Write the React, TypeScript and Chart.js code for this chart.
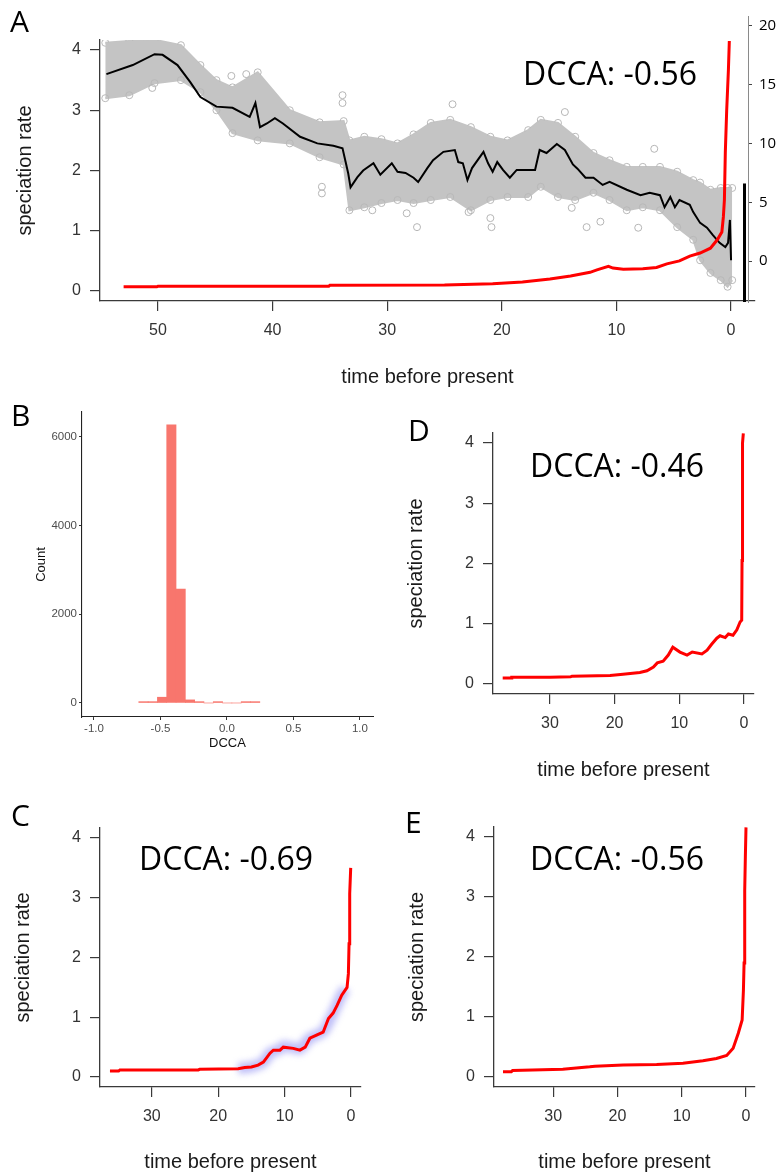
import React, { useEffect, useRef } from "react";
import { Chart, registerables } from "chart.js";
Chart.register(...registerables);

const AXIS_FONT = '"Liberation Sans", Arial, Helvetica, sans-serif';
const ANNOT_FONT = '"Open Sans", "Noto Sans", sans-serif';
const AXIS_COLOR = "#3a3a3a";
const TICK_COLOR = "#333333";
const TITLE_COLOR = "#1a1a1a";

// ---------- Panel A ----------
const aCloudT = [54.6, 52.5, 50.3, 48.0, 46.3, 44.9, 43.5, 41.3, 38.5, 35.9, 33.8, 33.3, 32.0, 30.5, 29.1, 27.7, 26.2, 24.5, 22.7, 21.0, 19.5, 17.7, 16.6, 15.1, 13.6, 12.0, 10.6, 9.1, 7.7, 6.2, 4.7, 3.3, 2.7, 1.8, 0.9, 0.3, -0.1];
const aCloudHi = [4.12, 4.15, 4.17, 4.08, 3.75, 3.5, 3.38, 3.63, 3.0, 2.8, 2.82, 2.5, 2.56, 2.52, 2.45, 2.6, 2.79, 2.84, 2.72, 2.56, 2.5, 2.67, 2.84, 2.79, 2.56, 2.29, 2.17, 2.06, 2.06, 2.06, 1.98, 1.84, 1.8, 1.68, 1.71, 1.71, 1.71];
const aCloudLo = [3.2, 3.25, 3.45, 3.5, 3.3, 3.0, 2.62, 2.5, 2.45, 2.22, 2.1, 1.34, 1.39, 1.46, 1.51, 1.46, 1.51, 1.56, 1.34, 1.51, 1.56, 1.56, 1.73, 1.56, 1.51, 1.63, 1.51, 1.34, 1.39, 1.34, 1.06, 0.85, 0.51, 0.3, 0.18, 0.07, 0.18];
const aOutT = [52.7, 51.7, 50.3, 50.5, 43.6, 42.3, 33.9, 33.9, 35.7, 35.7, 24.3, 14.5, 27.4, 20.9, 21.0, 28.3, 31.3, 22.9, 13.9, 6.7, 12.6, 8.1, 11.4];
const aOutV = [4.38, 4.25, 4.25, 3.37, 3.57, 3.6, 3.25, 3.12, 1.73, 1.62, 3.1, 2.97, 1.06, 1.06, 1.21, 1.29, 1.34, 1.31, 1.38, 2.36, 1.06, 1.05, 1.15];
const aMeanT = [54.5, 52.2, 50.3, 49.6, 48.3, 47.2, 46.3, 44.9, 43.5, 42.0, 41.5, 41.1, 40.5, 39.8, 39.1, 37.6, 36.1, 34.7, 33.9, 33.4, 33.2, 32.6, 32.1, 31.2, 30.6, 29.6, 29.1, 28.4, 27.7, 27.3, 26.5, 26.0, 25.1, 24.1, 23.8, 23.4, 23.0, 22.6, 21.6, 21.2, 20.8, 20.4, 19.9, 19.3, 18.7, 17.5, 17.1, 16.7, 16.1, 15.2, 14.5, 13.8, 13.4, 12.7, 12.0, 11.2, 10.6, 9.1, 7.9, 7.1, 6.2, 5.8, 5.3, 4.9, 4.5, 3.6, 3.3, 2.7, 2.1, 1.6, 1.0, 0.5, 0.26, 0.1, 0.0];
const aMeanV = [3.6, 3.75, 3.93, 3.92, 3.75, 3.47, 3.22, 3.06, 3.04, 2.89, 3.12, 2.72, 2.78, 2.87, 2.78, 2.56, 2.45, 2.41, 2.37, 1.95, 1.72, 1.89, 2.0, 2.12, 1.93, 2.12, 1.98, 1.96, 1.88, 1.81, 2.04, 2.17, 2.31, 2.34, 2.14, 2.12, 1.84, 2.04, 2.31, 2.12, 1.98, 2.14, 2.01, 1.88, 2.01, 2.01, 2.01, 2.34, 2.29, 2.44, 2.34, 2.1, 2.03, 1.88, 1.88, 1.76, 1.81, 1.68, 1.59, 1.63, 1.59, 1.39, 1.56, 1.39, 1.51, 1.43, 1.31, 1.13, 1.05, 0.93, 0.8, 0.73, 0.8, 1.18, 0.51];
const aRedT = [53.0, 50.1, 50.0, 35.1, 35.0, 25.0, 20.8, 18.2, 15.8, 14.0, 12.3, 11.7, 10.7, 10.3, 9.4, 7.7, 6.5, 5.6, 4.5, 3.6, 2.7, 1.8, 1.2, 0.8, 0.67, 0.58, 0.5, 0.38, 0.23, 0.15];
const aRedV = [0.07, 0.07, 0.08, 0.08, 0.095, 0.1, 0.12, 0.15, 0.2, 0.25, 0.31, 0.35, 0.41, 0.38, 0.36, 0.37, 0.39, 0.45, 0.5, 0.58, 0.63, 0.71, 0.85, 0.98, 1.23, 1.51, 2.3, 3.0, 3.67, 4.15];
const aTimeTicks = [0, 10, 20, 30, 40, 50];
const aRightTicks = [0, 5, 10, 15, 20];
const aBarTop = 6.6;
const aBarBottom = -3.47;

// ---------- Panel B ----------
const bBinCenters = [-0.628, -0.558, -0.488, -0.418, -0.348, -0.278, -0.208, -0.138, -0.068, 0.002, 0.072, 0.142, 0.212];
const bCounts = [30, 30, 130, 6270, 2570, 70, 30, 0, 30, 0, 0, 30, 30];
const bXTicks = [-1, -0.5, 0, 0.5, 1];
const bYTicks = [0, 2000, 4000, 6000];

// ---------- Panel C ----------
const cT = [36.3, 35.0, 34.8, 23.0, 22.8, 17.0, 16.0, 15.0, 14.0, 13.2, 12.2, 11.7, 10.7, 10.2, 8.7, 7.7, 6.9, 6.2, 5.2, 4.2, 3.4, 2.7, 2.1, 1.4, 0.6, 0.4, 0.3, 0.2, 0.05];
const cV = [0.1, 0.1, 0.12, 0.12, 0.13, 0.14, 0.16, 0.17, 0.2, 0.25, 0.4, 0.45, 0.45, 0.5, 0.48, 0.45, 0.5, 0.65, 0.7, 0.75, 0.98, 1.07, 1.2, 1.37, 1.5, 1.73, 2.23, 3.07, 3.5];
const cGlowT = [17, 15, 13.2, 12.2, 10.7, 10.2, 8.7, 7.7, 6.2, 4.2, 2.7, 1.4, 0.8];
const cGlowV = [0.14, 0.17, 0.25, 0.4, 0.47, 0.52, 0.49, 0.47, 0.65, 0.76, 1.07, 1.38, 1.48];

// ---------- Panel D ----------
const dT = [37.3, 36.0, 35.9, 30.0, 26.8, 26.6, 20.7, 18.7, 16.1, 15.0, 14.0, 13.4, 12.5, 11.7, 11.0, 9.9, 8.8, 8.0, 6.5, 5.7, 5.0, 4.2, 3.7, 2.9, 2.4, 1.7, 1.1, 0.6, 0.35, 0.3, 0.25, 0.2, 0.1];
const dV = [0.1, 0.1, 0.11, 0.11, 0.12, 0.13, 0.14, 0.16, 0.19, 0.22, 0.28, 0.35, 0.38, 0.48, 0.61, 0.53, 0.48, 0.53, 0.5, 0.56, 0.66, 0.76, 0.8, 0.77, 0.83, 0.81, 0.9, 1.03, 1.06, 2.05, 3.0, 4.0, 4.16];

// ---------- Panel E ----------
const eT = [37.8, 36.5, 36.3, 28.5, 24.3, 23.5, 19.1, 13.9, 9.8, 6.7, 4.6, 3.0, 2.0, 1.2, 0.6, 0.4, 0.3, 0.2, 0.1, 0.0];
const eV = [0.09, 0.09, 0.11, 0.13, 0.17, 0.18, 0.2, 0.21, 0.23, 0.27, 0.31, 0.36, 0.48, 0.73, 0.95, 1.45, 1.9, 3.1, 3.67, 4.16];

const rateTicks = [0, 1, 2, 3, 4];
const timeTicks = [0, 10, 20, 30];

const pts = (xs: number[], ys: number[]) => xs.map((x, i) => ({ x, y: ys[i] }));
const fixedTicks = (vals: number[]) => (s: any) => {
  s.ticks = vals.map((v) => ({ value: v }));
};

const blurPlugin = {
  id: "dsBlur",
  beforeDatasetDraw(chart: any, args: any) {
    const ds = chart.data.datasets[args.index];
    if (ds.blur) {
      chart.ctx.save();
      chart.ctx.filter = `blur(${ds.blur}px)`;
    }
  },
  afterDatasetDraw(chart: any, args: any) {
    const ds = chart.data.datasets[args.index];
    if (ds.blur) chart.ctx.restore();
  },
};

function rOptions(p: any) {
  const tickFont = { family: AXIS_FONT, size: 16 };
  return {
    animation: false,
    responsive: false,
    events: [],
    layout: { padding: { top: p.padTop, right: p.padRight, left: 0, bottom: 0 } },
    plugins: { legend: { display: false }, tooltip: { enabled: false } },
    scales: {
      x: {
        type: "linear",
        reverse: true,
        min: p.xMin,
        max: p.xMax,
        afterBuildTicks: fixedTicks(p.xTicks),
        afterFit: (s: any) => {
          s.height = p.xHeight;
        },
        grid: { drawOnChartArea: false, color: AXIS_COLOR, lineWidth: 1.2, tickLength: 10 },
        border: { color: AXIS_COLOR, width: 1.3 },
        ticks: {
          font: tickFont,
          color: TICK_COLOR,
          padding: 10,
          maxRotation: 0,
          autoSkip: false,
          callback: (v: any) => String(v),
        },
        title: {
          display: true,
          text: "time before present",
          font: { family: AXIS_FONT, size: 20 },
          color: TITLE_COLOR,
          padding: { top: 0, bottom: p.xTitlePad },
        },
      },
      y: {
        type: "linear",
        min: -0.166,
        max: 4.166,
        afterBuildTicks: fixedTicks(rateTicks),
        afterFit: (s: any) => {
          s.width = p.yWidth;
        },
        grid: { drawOnChartArea: false, color: AXIS_COLOR, lineWidth: 1.2, tickLength: 10 },
        border: { color: AXIS_COLOR, width: 1.3 },
        ticks: { font: tickFont, color: TICK_COLOR, padding: 9, autoSkip: false, callback: (v: any) => String(v) },
        title: {
          display: true,
          text: "speciation rate",
          font: { family: AXIS_FONT, size: 20 },
          color: TITLE_COLOR,
          padding: { top: p.yTitlePad, bottom: 0 },
        },
      },
    },
  };
}

const redLine = (data: any[]) => ({
  data,
  borderColor: "#ff0000",
  borderWidth: 3,
  pointRadius: 0,
  tension: 0,
  fill: false,
  order: 0,
});

function makeA() {
  return {
    type: "line",
    data: {
      datasets: [
        {
          data: pts(aCloudT, aCloudHi),
          borderColor: "#c4c4c4",
          borderWidth: 2,
          pointRadius: 3.5,
          pointBorderColor: "#b9b9b9",
          pointBackgroundColor: "rgba(0,0,0,0)",
          pointBorderWidth: 1,
          fill: false,
          order: 4,
        },
        {
          data: pts(aCloudT, aCloudLo),
          borderColor: "#c4c4c4",
          borderWidth: 2,
          backgroundColor: "#c4c4c4",
          pointRadius: 3.5,
          pointBorderColor: "#b9b9b9",
          pointBackgroundColor: "rgba(0,0,0,0)",
          pointBorderWidth: 1,
          fill: "-1",
          order: 3,
        },
        {
          data: pts(aOutT, aOutV),
          showLine: false,
          pointRadius: 3.5,
          pointStyle: "circle",
          pointBorderColor: "#b5b5b5",
          pointBackgroundColor: "rgba(0,0,0,0)",
          pointBorderWidth: 1,
          order: 2,
        },
        {
          data: pts(aMeanT, aMeanV),
          borderColor: "#000000",
          borderWidth: 2,
          pointRadius: 0,
          tension: 0,
          fill: false,
          order: 1,
        },
        redLine(pts(aRedT, aRedV)),
      ],
    },
    options: rOptions({
      padTop: 40,
      padRight: 26,
      xMin: -2.09,
      xMax: 55.06,
      xTicks: aTimeTicks,
      xHeight: 94,
      xTitlePad: 6,
      yWidth: 100,
      yTitlePad: 13,
    }),
  };
}

function makeARight() {
  return {
    type: "line",
    data: { datasets: [] },
    options: {
      animation: false,
      responsive: false,
      events: [],
      layout: { padding: { top: 8, bottom: 18, left: 0, right: 0 } },
      plugins: { legend: { display: false }, tooltip: { enabled: false } },
      scales: {
        x: { type: "linear", display: false, min: 0, max: 1 },
        y: {
          type: "linear",
          position: "right",
          min: -3.47,
          max: 20.83,
          afterBuildTicks: fixedTicks(aRightTicks),
          afterFit: (s: any) => {
            s.width = 33;
          },
          grid: { drawOnChartArea: false, color: "#444", lineWidth: 1, tickLength: 4 },
          border: { color: "#8a8a8a", width: 1 },
          ticks: {
            font: { family: ANNOT_FONT, size: 15 },
            color: "#000",
            padding: 7,
            autoSkip: false,
            callback: (v: any) => String(v),
          },
        },
      },
    },
    plugins: [
      {
        id: "thickBar",
        afterDraw(chart: any) {
          const s = chart.scales.y;
          const ctx = chart.ctx;
          ctx.save();
          ctx.strokeStyle = "#000";
          ctx.lineWidth = 3;
          ctx.beginPath();
          ctx.moveTo(s.left - 3.5, s.getPixelForValue(aBarTop));
          ctx.lineTo(s.left - 3.5, s.getPixelForValue(aBarBottom));
          ctx.stroke();
          ctx.restore();
        },
      },
    ],
  };
}

function makeB() {
  return {
    type: "bar",
    data: {
      datasets: [
        {
          data: pts(bBinCenters, bCounts),
          backgroundColor: "#F8766D",
          borderWidth: 0,
          barPercentage: 1,
          categoryPercentage: 1,
        },
      ],
    },
    options: {
      animation: false,
      responsive: false,
      events: [],
      layout: { padding: { top: 12, right: 17, left: 0, bottom: 0 } },
      plugins: { legend: { display: false }, tooltip: { enabled: false } },
      scales: {
        x: {
          type: "linear",
          offset: false,
          min: -1.09,
          max: 1.098,
          afterBuildTicks: fixedTicks(bXTicks),
          afterFit: (s: any) => {
            s.height = 38;
          },
          grid: { drawOnChartArea: false, offset: false, color: "#333", lineWidth: 1, tickLength: 3 },
          border: { color: "#222", width: 1.1 },
          ticks: {
            font: { family: AXIS_FONT, size: 11.5 },
            color: "#4d4d4d",
            padding: 2,
            maxRotation: 0,
            autoSkip: false,
            callback: (v: any) => Number(v).toFixed(1),
          },
          title: {
            display: true,
            text: "DCCA",
            font: { family: AXIS_FONT, size: 13 },
            color: "#111",
            padding: { top: 0, bottom: 4 },
          },
        },
        y: {
          type: "linear",
          min: -316,
          max: 6562,
          afterBuildTicks: fixedTicks(bYTicks),
          afterFit: (s: any) => {
            s.width = 82;
          },
          grid: { drawOnChartArea: false, color: "#333", lineWidth: 1, tickLength: 3 },
          border: { color: "#222", width: 1.1 },
          ticks: {
            font: { family: AXIS_FONT, size: 11.5 },
            color: "#4d4d4d",
            padding: 2,
            autoSkip: false,
            callback: (v: any) => String(v),
          },
          title: {
            display: true,
            text: "Count",
            font: { family: AXIS_FONT, size: 13 },
            color: "#111",
            padding: { top: 34, bottom: 0 },
          },
        },
      },
    },
  };
}

function makeC() {
  return {
    type: "line",
    data: {
      datasets: [
        {
          data: pts(cGlowT, cGlowV),
          borderColor: "rgba(110,110,240,0.45)",
          borderWidth: 11,
          pointRadius: 0,
          tension: 0.2,
          fill: false,
          blur: 3,
          order: 1,
        },
        redLine(pts(cT, cV)),
      ],
    },
    options: rOptions({
      padTop: 38,
      padRight: 29,
      xMin: -1.5,
      xMax: 37.8,
      xTicks: timeTicks,
      xHeight: 87,
      xTitlePad: 0,
      yWidth: 100,
      yTitlePad: 11,
    }),
    plugins: [blurPlugin],
  };
}

function makeD() {
  return {
    type: "line",
    data: { datasets: [redLine(pts(dT, dV))] },
    options: rOptions({
      padTop: 33,
      padRight: 27,
      xMin: -1.55,
      xMax: 38.8,
      xTicks: timeTicks,
      xHeight: 96,
      xTitlePad: 8,
      yWidth: 103,
      yTitlePad: 14,
    }),
  };
}

function makeE() {
  return {
    type: "line",
    data: { datasets: [redLine(pts(eT, eV))] },
    options: rOptions({
      padTop: 37,
      padRight: 26,
      xMin: -1.4,
      xMax: 39.2,
      xTicks: timeTicks,
      xHeight: 87,
      xTitlePad: 0,
      yWidth: 104,
      yTitlePad: 15,
    }),
  };
}

function ChartCanvas(props: { make: () => any; left: number; top: number; width: number; height: number }) {
  const ref = useRef<HTMLCanvasElement>(null);
  useEffect(() => {
    const chart = new Chart(ref.current as HTMLCanvasElement, props.make());
    return () => chart.destroy();
  }, []);
  return (
    <canvas
      ref={ref}
      width={props.width}
      height={props.height}
      style={{
        position: "absolute",
        left: props.left,
        top: props.top,
        width: props.width,
        height: props.height,
        pointerEvents: "none",
      }}
    />
  );
}

function Label(props: { text: string; left: number; top: number; size: number }) {
  return (
    <div
      style={{
        position: "absolute",
        left: props.left,
        top: props.top,
        fontFamily: ANNOT_FONT,
        fontSize: props.size,
        lineHeight: 1,
        color: "#000",
        whiteSpace: "nowrap",
      }}
    >
      {props.text}
    </div>
  );
}

export default function App() {
  return (
    <div
      style={{
        position: "absolute",
        left: 0,
        top: 0,
        width: 781,
        height: 1174,
        background: "#fff",
        overflow: "hidden",
      }}
    >
      <ChartCanvas make={makeA} left={0} top={0} width={781} height={395} />
      <ChartCanvas make={makeARight} left={0} top={0} width={781} height={320} />
      <ChartCanvas make={makeB} left={0} top={400} width={390} height={355} />
      <ChartCanvas make={makeD} left={390} top={400} width={391} height={390} />
      <ChartCanvas make={makeC} left={0} top={790} width={390} height={384} />
      <ChartCanvas make={makeE} left={390} top={790} width={391} height={384} />

      <Label text="A" left={10} top={6} size={30} />
      <Label text="B" left={11} top={400} size={30} />
      <Label text="D" left={408} top={415} size={30} />
      <Label text="C" left={11} top={800} size={30} />
      <Label text="E" left={405} top={807} size={30} />

      <Label text="DCCA: -0.56" left={523} top={57} size={32} />
      <Label text="DCCA: -0.46" left={530} top={449} size={32} />
      <Label text="DCCA: -0.69" left={139} top={842} size={32} />
      <Label text="DCCA: -0.56" left={530} top={842} size={32} />
    </div>
  );
}
